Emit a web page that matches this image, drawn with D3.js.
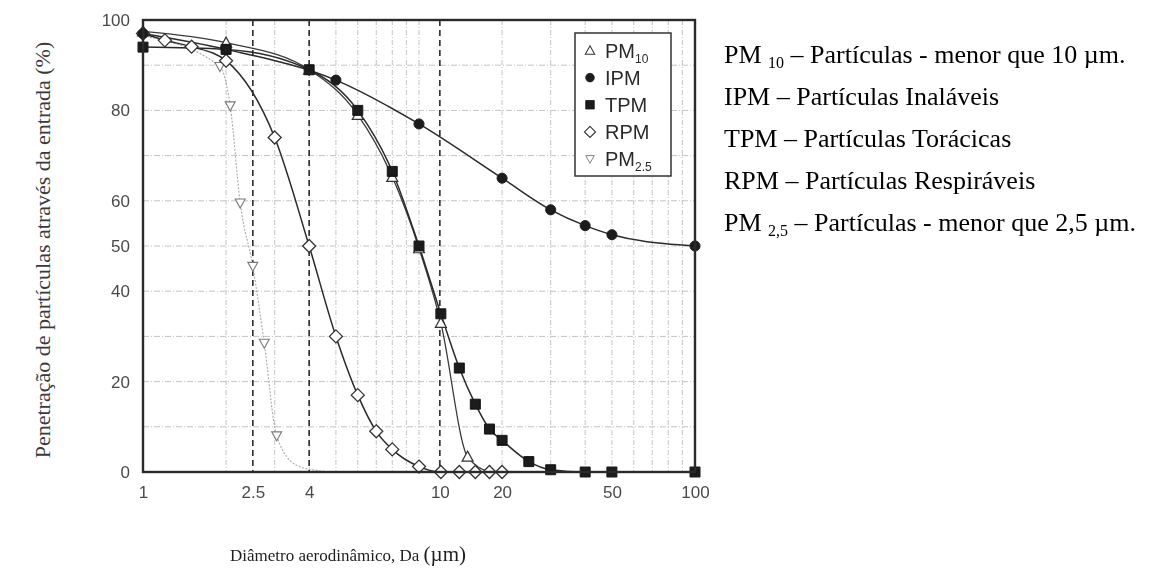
<!DOCTYPE html>
<html>
<head>
<meta charset="utf-8">
<script src="https://cdn.jsdelivr.net/npm/d3@7"></script>
<style>
  body { margin: 0; background: #fff; }
  svg { display: block; }
</style>
</head>
<body>
<svg id="chart" width="1149" height="580"></svg>
<script>
// ---- data: penetration (%) vs aerodynamic diameter (µm) ----
const pm10  = [[1, 97.5], [2, 95], [4, 89], [6, 79], [8, 65.3], [10, 49.5], [12, 33], [15, 3.4]];
const pm10Tail = [[18, 0]];
const ipm   = [[1, 97], [2, 93.5], [5, 86.7], [10, 77], [20, 65], [30, 58], [40, 54.5], [50, 52.5], [100, 50]];
const tpm   = [[1, 94], [2, 93.5], [4, 89], [6, 80], [8, 66.5], [10, 50], [12, 35], [14, 23], [16, 15],
               [18, 9.5], [20, 7], [25, 2.3], [30, 0.5], [40, 0], [50, 0], [100, 0]];
const rpm   = [[1, 97], [1.2, 95.5], [1.5, 94.1], [2, 91], [3, 74], [4, 50], [5, 30], [6, 17], [7, 9],
               [8, 5], [10, 1.2], [12, 0], [14, 0], [16, 0], [18, 0], [20, 0]];
const pm25  = [[1, 96.5], [1.9, 89.7], [2.07, 81], [2.25, 59.5], [2.5, 45.5], [2.75, 28.5], [3.05, 8]];
const pm25Tail = [[3.6, 1.5], [4.3, 0.3], [5, 0]];

// axis ticks and cut-point reference lines
const xTickValues = [1, 2.5, 4, 11.9, 20, 50, 100];
const xTickLabels = ["1", "2.5", "4", "10", "20", "50", "100"];
const yTickValues = [0, 20, 40, 50, 60, 80, 100];
const cutLines = [2.5, 4, 11.9];

// legend and notes
const legendNames = ["PM", "IPM", "TPM", "RPM", "PM"];
const legendSubs  = ["10", "", "", "", "2.5"];
const legendKeys  = ["pm10", "ipm", "tpm", "rpm", "pm25"];
const notePrefix  = ["PM ", "IPM – Partículas Inaláveis", "TPM – Partículas Torácicas", "RPM – Partículas Respiráveis", "PM "];
const noteSub     = ["10", "", "", "", "2,5"];
const noteRest    = [" – Partículas - menor que 10 µm.", "", "", "", " – Partículas - menor que 2,5 µm."];

const svg = d3.select("#chart");
const W = 1149, H = 580;
const plot = { left: 143, right: 695, top: 20, bottom: 472 };

const x = d3.scaleLog().domain([1, 100]).range([plot.left, plot.right]);
const y = d3.scaleLinear().domain([0, 100]).range([plot.bottom, plot.top]);

// soft scan-like rendering of the figure itself
const defs = svg.append("defs");
defs.append("filter").attr("id", "soft")
  .attr("x", "-5%").attr("y", "-5%").attr("width", "110%").attr("height", "110%")
  .append("feGaussianBlur").attr("stdDeviation", 0.45);

const fig = svg.append("g").attr("filter", "url(#soft)");

// grid
const gridCol = "#c4c4c4";
fig.append("g").selectAll("line")
  .data(x.ticks().filter(d => d > 1 && d < 100))
  .join("line")
  .attr("x1", d => x(d)).attr("x2", d => x(d))
  .attr("y1", plot.top).attr("y2", plot.bottom)
  .attr("stroke", gridCol).attr("stroke-width", 1)
  .attr("stroke-dasharray", "5,2,1,2");

fig.append("g").selectAll("line")
  .data(y.ticks(10).filter(d => d > 0 && d < 100))
  .join("line")
  .attr("x1", plot.left).attr("x2", plot.right)
  .attr("y1", d => y(d)).attr("y2", d => y(d))
  .attr("stroke", gridCol).attr("stroke-width", 1)
  .attr("stroke-dasharray", "6,2,1,2");

// dashed cut-point lines
fig.append("g").selectAll("line")
  .data(cutLines)
  .join("line")
  .attr("x1", d => x(d)).attr("x2", d => x(d))
  .attr("y1", plot.top).attr("y2", plot.bottom)
  .attr("stroke", "#2b2b2b").attr("stroke-width", 1.6)
  .attr("stroke-dasharray", "6,4");

// axes labels
const xAxis = d3.axisBottom(x).tickValues(xTickValues)
  .tickFormat((d, i) => xTickLabels[i]).tickSize(0).tickPadding(14);
const gx = fig.append("g").attr("transform", `translate(0,${plot.bottom})`).call(xAxis);
gx.select(".domain").remove();
gx.selectAll("text").attr("font-family", "Liberation Sans, Arial, sans-serif")
  .attr("font-size", 17).attr("fill", "#4a4a4a");

const yAxis = d3.axisLeft(y).tickValues(yTickValues).tickSize(0).tickPadding(13);
const gy = fig.append("g").attr("transform", `translate(${plot.left},0)`).call(yAxis);
gy.select(".domain").remove();
gy.selectAll("text").attr("font-family", "Liberation Sans, Arial, sans-serif")
  .attr("font-size", 17).attr("fill", "#4a4a4a");

// curves
const line = d3.line().x(d => x(d[0])).y(d => y(d[1])).curve(d3.curveMonotoneX);
const curveStroke = "#2a2a2a";

fig.append("path").datum(pm25.concat(pm25Tail)).attr("d", line)
  .attr("fill", "none").attr("stroke", "#a9a9a9").attr("stroke-width", 1.1)
  .attr("stroke-dasharray", "2,1.5");
fig.append("path").datum(rpm).attr("d", line)
  .attr("fill", "none").attr("stroke", curveStroke).attr("stroke-width", 1.5);
fig.append("path").datum(pm10.concat(pm10Tail)).attr("d", line)
  .attr("fill", "none").attr("stroke", "#3a3a3a").attr("stroke-width", 1.3);
fig.append("path").datum(ipm).attr("d", line)
  .attr("fill", "none").attr("stroke", curveStroke).attr("stroke-width", 1.5);
fig.append("path").datum(tpm).attr("d", line)
  .attr("fill", "none").attr("stroke", curveStroke).attr("stroke-width", 1.5);

// marker shapes
const shapes = {
  pm10: { d: "M0,-5.5L5.5,4.5L-5.5,4.5Z", fill: "#fff", stroke: "#333", sw: 1.2 },
  ipm:  { d: d3.symbol(d3.symbolCircle, 80)(), fill: "#1e1e1e", stroke: "#1e1e1e", sw: 1 },
  tpm:  { d: "M-5,-5H5V5H-5Z", fill: "#1a1a1a", stroke: "#1a1a1a", sw: 1 },
  rpm:  { d: "M0,-6.5L6.5,0L0,6.5L-6.5,0Z", fill: "#fff", stroke: "#333", sw: 1.3 },
  pm25: { d: "M0,5L5,-4L-5,-4Z", fill: "#fff", stroke: "#7a7a7a", sw: 1.1 }
};
function drawMarkers(data, key) {
  const s = shapes[key];
  fig.append("g").selectAll("path").data(data).join("path")
    .attr("transform", d => `translate(${x(d[0])},${y(d[1])})`)
    .attr("d", s.d).attr("fill", s.fill).attr("stroke", s.stroke).attr("stroke-width", s.sw);
}
drawMarkers(pm25, "pm25");
drawMarkers(rpm, "rpm");
drawMarkers(pm10, "pm10");
drawMarkers(ipm, "ipm");
drawMarkers(tpm, "tpm");

// frame
fig.append("rect")
  .attr("x", plot.left).attr("y", plot.top)
  .attr("width", plot.right - plot.left).attr("height", plot.bottom - plot.top)
  .attr("fill", "none").attr("stroke", "#2a2a2a").attr("stroke-width", 2.4);

// legend
const lg = fig.append("g");
lg.append("rect").attr("x", 575).attr("y", 33).attr("width", 96).attr("height", 143)
  .attr("fill", "#fff").attr("stroke", "#333").attr("stroke-width", 1.5);
const legendRow = d3.scalePoint().domain(legendKeys).range([50.5, 159]);
legendKeys.forEach((k, i) => {
  const s = shapes[k];
  const cy = legendRow(k);
  lg.append("path").attr("transform", `translate(590,${cy}) scale(0.85)`)
    .attr("d", s.d).attr("fill", s.fill).attr("stroke", s.stroke).attr("stroke-width", s.sw);
  const t = lg.append("text").attr("x", 605).attr("y", cy + 7)
    .attr("font-family", "Liberation Sans, Arial, sans-serif").attr("font-size", 20).attr("fill", "#2a2a2a")
    .text(legendNames[i]);
  if (legendSubs[i]) {
    t.append("tspan").attr("font-size", 12).attr("dy", 5).text(legendSubs[i]);
  }
});

// axis titles
svg.append("text")
  .attr("transform", `translate(50,250) rotate(-90)`)
  .attr("text-anchor", "middle")
  .attr("font-family", "Liberation Serif, Times New Roman, serif")
  .attr("font-size", 22).attr("fill", "#3a3a3a")
  .text("Penetração de partículas através da entrada (%)");

const xt = svg.append("text")
  .attr("x", 348).attr("y", 561).attr("text-anchor", "middle")
  .attr("font-family", "Liberation Serif, Times New Roman, serif")
  .attr("font-size", 17).attr("fill", "#1e1e1e")
  .text("Diâmetro aerodinâmico, Da ");
xt.append("tspan").attr("font-size", 21).text("(µm)");

// notes beside the chart
const notes = svg.append("g")
  .attr("font-family", "Liberation Serif, Times New Roman, serif")
  .attr("font-size", 26).attr("fill", "#000");
notePrefix.forEach((p, i) => {
  const t = notes.append("text").attr("x", 724).attr("y", 63 + i * 42).text(p);
  if (noteSub[i]) {
    t.append("tspan").attr("font-size", 16).attr("dy", 5).text(noteSub[i]);
    t.append("tspan").attr("dy", -5).text(noteRest[i]);
  }
});
</script>
</body>
</html>
